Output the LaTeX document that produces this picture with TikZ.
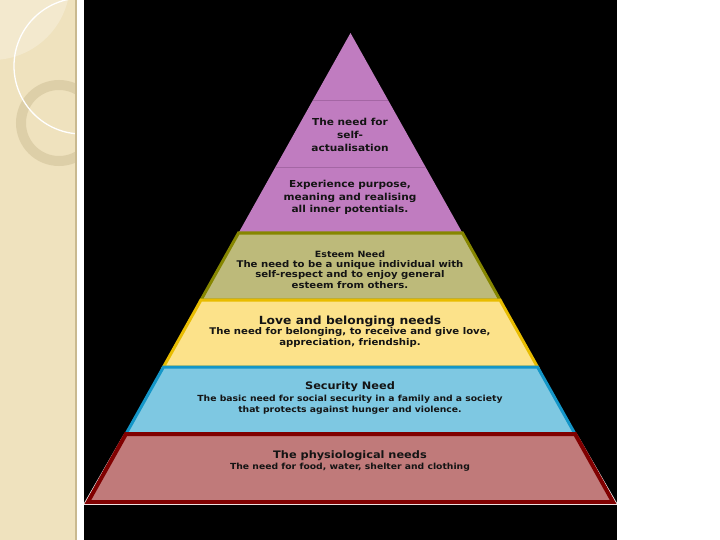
\documentclass[tikz,border=0pt]{standalone}
\usepackage{xcolor}
\usepackage{fontspec}
\setmainfont{DejaVu Sans}
\newfontfamily\widefont[FakeStretch=1.1]{DejaVu Sans}
\usepackage{tikz}
\usetikzlibrary{positioning}

\definecolor{stripbg}{HTML}{EFE2BE}
\definecolor{stripedge}{HTML}{C9B98F}
\definecolor{purfill}{HTML}{C07CC0}
\definecolor{purline}{HTML}{A466A4}
\definecolor{olfill}{HTML}{BDBA7A}
\definecolor{oldraw}{HTML}{868600}
\definecolor{yefill}{HTML}{FCE28A}
\definecolor{yedraw}{HTML}{E8BC00}
\definecolor{blfill}{HTML}{7EC8E2}
\definecolor{bldraw}{HTML}{1496C8}
\definecolor{rdfill}{HTML}{C07A7A}
\definecolor{rddraw}{HTML}{800000}
\definecolor{txt}{HTML}{141414}

\begin{document}
\begin{tikzpicture}[
    x=1pt, y=-1pt,
    band/.style={line width=3pt, line join=miter},
    ttl/.style={inner sep=0pt, text=txt, font=\widefont\bfseries\fontsize{10.3}{13}\selectfont},
    ttlw/.style={ttl, font=\widefont\bfseries\fontsize{11.2}{13}\selectfont},
    ttls/.style={ttl, font=\widefont\bfseries\fontsize{8.6}{11}\selectfont},
    dsc/.style={inner sep=0pt, align=center, text=txt, font=\widefont\bfseries\fontsize{8.4}{10.8}\selectfont},
    dscw/.style={dsc, font=\widefont\bfseries\fontsize{9.2}{10.6}\selectfont},
    big/.style={inner sep=0pt, align=center, text=txt, font=\widefont\bfseries\fontsize{9.6}{12.6}\selectfont},
]
    \useasboundingbox (0,0) rectangle (720,540);
    \fill[white] (0,0) rectangle (720,540);
    % left strip
    \fill[stripbg] (0,0) rectangle (77,540);
    \begin{scope}
        \clip (0,0) rectangle (76,540);
        \fill[white, opacity=0.25] (-8,-18) circle (78);
        \draw[stripedge, opacity=0.45, line width=10pt] (59,123) circle (38);
        \draw[white, line width=1.3pt] (82,66) circle (68);
    \end{scope}
    \fill[stripedge] (75,0) rectangle (77,540);
    % black panel
    \fill[black] (84,0) rectangle (617,540);

    % top triangle
    \fill[purfill] (350.5,33) -- (238.5,233) -- (462.5,233) -- cycle;
    \draw[purline, line width=0.6pt] ({350.5-0.56*67},100) -- ({350.5+0.56*67},100);
    \draw[purline, line width=0.6pt] ({350.5-0.56*134},167) -- ({350.5+0.56*134},167);

    % bands
    \foreach \t/\b/\fc/\dc in {233/300/olfill/oldraw, 300/367/yefill/yedraw, 367/434/blfill/bldraw}{
        \draw[band, fill=\fc, draw=\dc]
            ({350.5-0.56*(\t-33)},\t) -- ({350.5+0.56*(\t-33)},\t)
            -- ({350.5+0.56*(\b-33)},\b) -- ({350.5-0.56*(\b-33)},\b) -- cycle;
    }
    \draw[white, line width=5.5pt, line join=miter]
        ({350.5-0.56*401},436) -- ({350.5-0.56*469},502)
        -- ({350.5+0.56*469},502) -- ({350.5+0.56*401},436);
    \draw[band, line width=4pt, fill=rdfill, draw=rddraw]
        ({350.5-0.56*401},434) -- ({350.5+0.56*401},434)
        -- ({350.5+0.56*469},502) -- ({350.5-0.56*469},502) -- cycle;

    % labels
    \node[big] (SA) at (350,135) {The need for\\self-\\actualisation};
    \node[big] (EX) at (350,197.5) {Experience purpose,\\meaning and realising\\all inner potentials.};
    \node[ttls] (ES) at (350,254) {Esteem Need};
    \node[dscw] (ESd) at (350,274.5) {The need to be a unique individual with\\self-respect and to enjoy general\\esteem from others.};
    \node[ttlw] (LB) at (350,321) {Love and belonging needs};
    \node[dscw] (LBd) at (350,337.5) {The need for belonging, to receive and give love,\\appreciation, friendship.};
    \node[ttl] (SE) at (350,387) {Security Need};
    \node[dsc] (SEd) at (350,404.5) {The basic need for social security in a family and a society\\that protects against hunger and violence.};
    \node[ttl] (PH) at (350,456) {The physiological needs};
    \node[dsc] (PHd) at (350,467) {The need for food, water, shelter and clothing};
\end{tikzpicture}
\end{document}
